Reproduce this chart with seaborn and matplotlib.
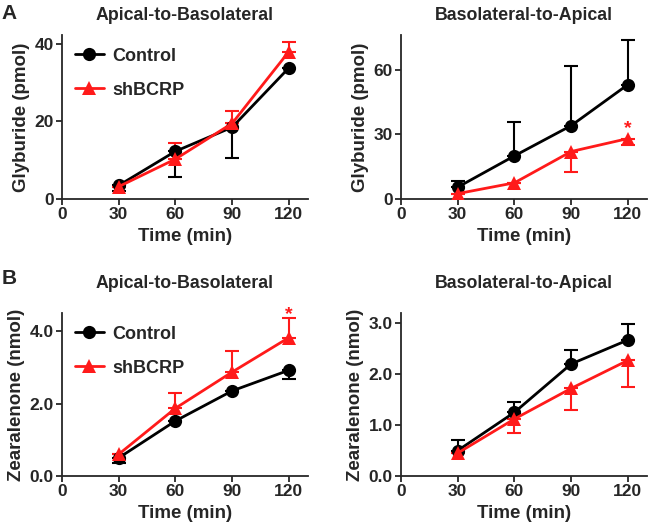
import pandas as pd
import numpy as np
import seaborn as sns
import matplotlib.pyplot as plt

sns.set_theme(style="ticks")
plt.rcParams['font.family'] = ['Liberation Sans', 'DejaVu Sans']
plt.rcParams['font.weight'] = 'bold'

times = [30, 60, 90, 120]
groups = ['Control', 'shBCRP']

# Glyburide, apical-to-basolateral (pmol)
gly_ab_ctrl = [3.5, 12.3, 18.5, 33.8]
gly_ab_ctrl_lo = [1.5, 6.6, 7.8, 0.0]
gly_ab_ctrl_hi = [0.0, 0.0, 0.0, 0.0]
gly_ab_sh = [3.2, 10.3, 19.5, 38.0]
gly_ab_sh_lo = [0.0, 0.0, 0.0, 0.0]
gly_ab_sh_hi = [0.0, 4.2, 3.2, 2.6]

# Glyburide, basolateral-to-apical (pmol)
gly_ba_ctrl = [5.5, 20.0, 34.0, 53.0]
gly_ba_ctrl_lo = [0.0, 0.0, 0.0, 0.0]
gly_ba_ctrl_hi = [3.0, 15.5, 27.5, 20.5]
gly_ba_sh = [2.5, 7.5, 22.0, 28.0]
gly_ba_sh_lo = [0.0, 0.0, 9.5, 3.0]
gly_ba_sh_hi = [0.0, 0.0, 0.0, 0.0]

# Zearalenone, apical-to-basolateral (nmol)
zea_ab_ctrl = [0.50, 1.52, 2.35, 2.92]
zea_ab_ctrl_lo = [0.15, 0.0, 0.0, 0.24]
zea_ab_ctrl_hi = [0.0, 0.0, 0.0, 0.0]
zea_ab_sh = [0.60, 1.87, 2.87, 3.82]
zea_ab_sh_lo = [0.0, 0.0, 0.0, 0.0]
zea_ab_sh_hi = [0.0, 0.41, 0.58, 0.53]

# Zearalenone, basolateral-to-apical (nmol)
zea_ba_ctrl = [0.50, 1.25, 2.20, 2.67]
zea_ba_ctrl_lo = [0.0, 0.0, 0.0, 0.0]
zea_ba_ctrl_hi = [0.20, 0.20, 0.27, 0.31]
zea_ba_sh = [0.45, 1.12, 1.72, 2.27]
zea_ba_sh_lo = [0.0, 0.27, 0.42, 0.52]
zea_ba_sh_hi = [0.0, 0.0, 0.0, 0.0]

palette = {'Control': 'black', 'shBCRP': '#ff1a1a'}
markers = {'Control': 'o', 'shBCRP': '^'}

panels = [
    dict(title='Apical-to-Basolateral', ylabel='Glyburide (pmol)',
         ctrl=(gly_ab_ctrl, gly_ab_ctrl_lo, gly_ab_ctrl_hi),
         sh=(gly_ab_sh, gly_ab_sh_lo, gly_ab_sh_hi),
         ylim=42.3, yticks=[0, 20, 40], fmt='{:.0f}', legend=True, star=None, pad=11),
    dict(title='Basolateral-to-Apical', ylabel='Glyburide (pmol)',
         ctrl=(gly_ba_ctrl, gly_ba_ctrl_lo, gly_ba_ctrl_hi),
         sh=(gly_ba_sh, gly_ba_sh_lo, gly_ba_sh_hi),
         ylim=76, yticks=[0, 30, 60], fmt='{:.0f}', legend=False, star=(120, 32.5), pad=11),
    dict(title='Apical-to-Basolateral', ylabel='Zearalenone (nmol)',
         ctrl=(zea_ab_ctrl, zea_ab_ctrl_lo, zea_ab_ctrl_hi),
         sh=(zea_ab_sh, zea_ab_sh_lo, zea_ab_sh_hi),
         ylim=4.5, yticks=[0, 2, 4], fmt='{:.1f}', legend=True, star=(120, 4.45), pad=18),
    dict(title='Basolateral-to-Apical', ylabel='Zearalenone (nmol)',
         ctrl=(zea_ba_ctrl, zea_ba_ctrl_lo, zea_ba_ctrl_hi),
         sh=(zea_ba_sh, zea_ba_sh_lo, zea_ba_sh_hi),
         ylim=3.2, yticks=[0, 1, 2, 3], fmt='{:.1f}', legend=False, star=None, pad=18),
]

rects = [
    [0.0954, 0.6245, 0.378, 0.3095],
    [0.617, 0.6245, 0.378, 0.3095],
    [0.0954, 0.1019, 0.378, 0.3075],
    [0.617, 0.1019, 0.378, 0.3075],
]

fig = plt.figure(figsize=(6.5, 5.3), dpi=100)

for p, rect in zip(panels, rects):
    ax = fig.add_axes(rect)
    df = pd.DataFrame({
        'time': times * 2,
        'value': list(p['ctrl'][0]) + list(p['sh'][0]),
        'group': ['Control'] * 4 + ['shBCRP'] * 4,
    })
    for g, (vals, lo, hi) in zip(groups, [p['ctrl'], p['sh']]):
        ax.errorbar(times, vals, yerr=[lo, hi], fmt='none', ecolor=palette[g],
                    elinewidth=1.5, capsize=5, capthick=1.5, zorder=2)
    sns.lineplot(data=df, x='time', y='value', hue='group', style='group',
                 palette=palette, markers=markers, dashes=False, markersize=9.5,
                 markeredgewidth=0, linewidth=2, ax=ax, legend=p['legend'], zorder=3)
    ax.set_xlim(0, 130)
    ax.set_ylim(0, p['ylim'])
    ax.set_xticks([0, 30, 60, 90, 120])
    ax.set_yticks(p['yticks'])
    ax.set_yticklabels([p['fmt'].format(v) for v in p['yticks']])
    ax.tick_params(labelsize=12.5, width=1.3, length=4, pad=2)
    for lab in ax.get_xticklabels() + ax.get_yticklabels():
        lab.set_fontweight('bold')
    ax.set_xlabel('Time (min)', fontsize=13.5, fontweight='bold', labelpad=4)
    ax.set_ylabel(p['ylabel'], fontsize=13.5, fontweight='bold', labelpad=3)
    ax.set_title(p['title'], fontsize=12.8, fontweight='bold', pad=p['pad'])
    for s in ['left', 'bottom']:
        ax.spines[s].set_linewidth(1.3)
    sns.despine(ax=ax)
    if p['legend']:
        ax.legend(loc='upper left', frameon=False, handlelength=1.6,
                  handletextpad=0.5, labelspacing=0.95, borderaxespad=0.3,
                  prop={'weight': 'bold', 'size': 13})
    if p['star']:
        ax.text(p['star'][0], p['star'][1], '*', color=palette['shBCRP'],
                fontsize=14, fontweight='bold', ha='center', va='center', clip_on=False)

fig.text(0.003, 0.975, 'A', fontsize=15, fontweight='bold', va='center')
fig.text(0.003, 0.475, 'B', fontsize=15, fontweight='bold', va='center')

fig.savefig('out.png', dpi=100)
